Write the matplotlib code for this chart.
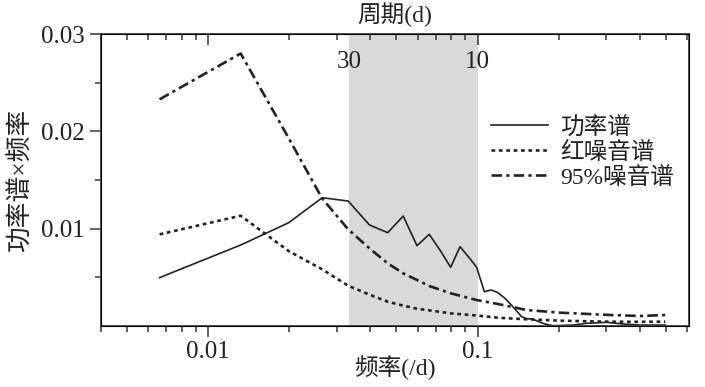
import matplotlib
matplotlib.use("Agg")
import matplotlib.pyplot as plt
from matplotlib.ticker import FixedLocator, NullFormatter
import matplotlib.transforms as mtransforms

# ---- data ----
freq_power = [0.0066, 0.0132, 0.0199, 0.0265, 0.0331, 0.0397, 0.0464, 0.0530, 0.0596,
              0.0662, 0.0728, 0.0795, 0.0861, 0.0927, 0.0993, 0.1060, 0.1126, 0.1192,
              0.1258, 0.1325, 0.1391, 0.1457, 0.1523, 0.1589, 0.1656, 0.1722, 0.1788,
              0.191, 0.227, 0.254, 0.302, 0.348, 0.402, 0.498]
power = [0.00497, 0.00832, 0.01061, 0.01318, 0.01284, 0.01038, 0.00959, 0.0113, 0.00825,
         0.00942, 0.00774, 0.00603, 0.00815, 0.00709, 0.00603, 0.00353, 0.0037, 0.00342,
         0.0029, 0.00226, 0.00161, 0.00096, 0.00075, 0.00072, 0.00055, 0.00034, 0.0002,
         0.00003, 0.0001, 0.00028, 0.00038, 0.0002, 0.0001, 0.0001]

freq_noise = [0.0066, 0.0132, 0.0199, 0.0265, 0.0331, 0.0397, 0.0464, 0.0530, 0.0596,
              0.0662, 0.0795, 0.0993, 0.1192, 0.1523, 0.2024, 0.311, 0.403, 0.498]
red_noise = [0.00942, 0.01133, 0.0077, 0.00582, 0.00414, 0.00322, 0.0025, 0.00209, 0.00178,
             0.00161, 0.0013, 0.00108, 0.00085, 0.00069, 0.00055, 0.00044, 0.00043, 0.00045]
noise95 = [0.02329, 0.0280, 0.0193, 0.0131, 0.00993, 0.00798, 0.00644, 0.00541, 0.00473,
           0.00411, 0.00336, 0.00267, 0.00226, 0.00164, 0.00137, 0.00113, 0.00103, 0.00113]

band_periods = [30, 10]          # shaded band, in days
series_labels = ["功率谱", "红噪音谱", "95%噪音谱"]
y_major = [0.01, 0.02, 0.03]
y_minor = [0.005, 0.015, 0.025]

FONT = ["Liberation Serif", "Noto Sans CJK SC"]
plt.rcParams["font.family"] = FONT
plt.rcParams["axes.unicode_minus"] = False

fig = plt.figure(figsize=(7.05, 3.87), dpi=100)
ax = fig.add_axes([0.1433, 0.1576, 0.834, 0.7545])

ax.axvspan(1 / band_periods[0], 1 / band_periods[1], color="#d9d9d9", lw=0, zorder=0)

l1, = ax.plot(freq_power, power, color="#222222", lw=1.2, ls="-")
l2, = ax.plot(freq_noise, red_noise, color="#222222", lw=1.9, ls=(0, (1.4, 1.4)))
l3, = ax.plot(freq_noise, noise95, color="#222222", lw=1.9, ls=(0, (4, 1.6, 1.2, 1.6)))

ax.set_xscale("log")
ax.set_xlim(0.004, 0.61)
ax.set_ylim(0, 0.03)

ax.yaxis.set_major_locator(FixedLocator(y_major))
ax.yaxis.set_minor_locator(FixedLocator(y_minor))
ax.set_yticklabels([f"{v:.2f}" for v in y_major])
ax.xaxis.set_major_formatter(matplotlib.ticker.FuncFormatter(lambda v, p: f"{v:g}"))
ax.xaxis.set_minor_formatter(NullFormatter())

ax.tick_params(axis="both", which="major", direction="out", length=8, width=1.2,
               labelsize=18, color="#444444", labelcolor="#222222")
ax.tick_params(axis="both", which="minor", direction="out", length=4, width=1.2,
               color="#444444")
ax.tick_params(axis="x", pad=3)
ax.tick_params(axis="y", pad=4)
for s in ax.spines.values():
    s.set_linewidth(1.3)
    s.set_color("#444444")

ax.set_xlabel("频率(/d)", fontsize=17, labelpad=-6, color="#222222")
ax.set_ylabel("功率谱×频率", fontsize=18.5, labelpad=6, color="#222222")

# top axis with inward ticks
ax2 = ax.twiny()
ax2.set_xscale("log")
ax2.set_xlim(ax.get_xlim())
ax2.tick_params(axis="x", which="major", direction="in", length=8, width=1.2,
                color="#444444", labeltop=False)
ax2.tick_params(axis="x", which="minor", direction="in", length=4, width=1.2,
                color="#444444")
ax2.xaxis.set_major_formatter(NullFormatter())
ax2.xaxis.set_minor_formatter(NullFormatter())
ax2.set_xlabel("周期(d)", fontsize=17, labelpad=5, color="#222222")

trans = mtransforms.blended_transform_factory(ax.transData, ax.transAxes)
for p in band_periods:
    ax.text(1 / p, 0.905, str(p), transform=trans, ha="center", va="center",
            fontsize=18, color="#222222")

leg = ax.legend([l1, l2, l3], series_labels, loc="upper left",
                bbox_to_anchor=(0.648, 0.75), frameon=False, fontsize=17,
                handlelength=2.4, labelspacing=0.12, handletextpad=0.5,
                borderaxespad=0)
for t in leg.get_texts():
    t.set_color("#222222")

fig.savefig("out.png", dpi=100)
